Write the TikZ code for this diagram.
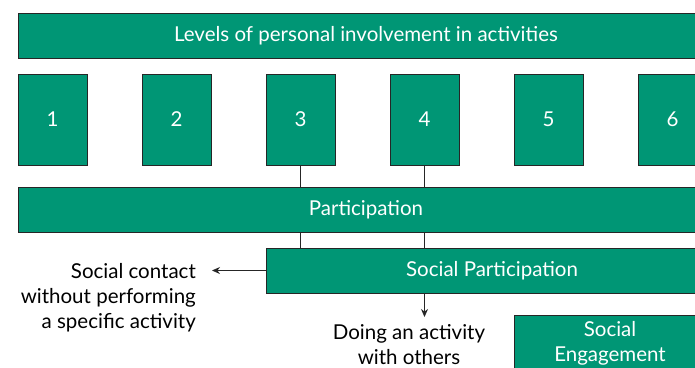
\documentclass[tikz,border=0pt]{standalone}
\usepackage{fontspec}
\setmainfont{Lato}
\usetikzlibrary{arrows.meta}
\definecolor{levelgreen}{RGB}{0,150,117}
\tikzset{
  greenbox/.style={draw=black!85, line width=0.8pt, fill=levelgreen, text=white,
    inner sep=0pt, font=\fontsize{20.5}{25}\selectfont},
  plaintext/.style={text=black, inner sep=2pt, font=\fontsize{20.5}{25}\selectfont},
  link/.style={draw=black!85, line width=0.8pt},
  arrowlink/.style={link, -{Stealth[length=8pt,width=7pt]}}
}
\newcommand{\levelbox}[3]{\node [greenbox, minimum width=69pt, minimum height=91pt] (#2) at (#1) {#3};}

\begin{document}
\begin{tikzpicture}[x=1pt, y=-1pt]
\useasboundingbox (0,0) rectangle (695,367);
\clip (0,0) rectangle (695,367);

\node [greenbox, minimum width=696pt, minimum height=45pt] (levels) at (366,35.5) {Levels of personal involvement in activities};

\foreach \i in {1,...,6} {
  \levelbox {{52.5+124*(\i-1)},119.5} {b\i} {\i}
}

\node [greenbox, minimum width=696pt, minimum height=45pt] (part) at (366,209.5) {Participation};
\node [greenbox, minimum width=452pt, minimum height=45pt] (socpart) at (492,270.5) {Social Participation};
\node [greenbox, minimum width=192pt, minimum height=56pt, align=center] (soceng) at (610,343) {Social\\Engagement};

\node [plaintext, align=right, anchor=east] (contact) at (198,298) {Social contact\\without performing\\a specific activity};
\node [plaintext, align=center, anchor=north] (doing) at (409,322) {Doing an activity\\with others};

\draw [link] (b3.south) -- (b3.south |- part.north);
\draw [link] (b4.south) -- (b4.south |- part.north);
\draw [link] (part.south -| b3.south) -- (b3.south |- socpart.north);
\draw [link] (part.south -| b4.south) -- (b4.south |- socpart.north);
\draw [arrowlink, shorten >=14pt] (socpart.west) -- (contact.east |- socpart.west);
\draw [arrowlink, shorten >=5pt] (socpart.south -| b4.south) -- (doing.north -| b4.south);

\end{tikzpicture}
\end{document}
